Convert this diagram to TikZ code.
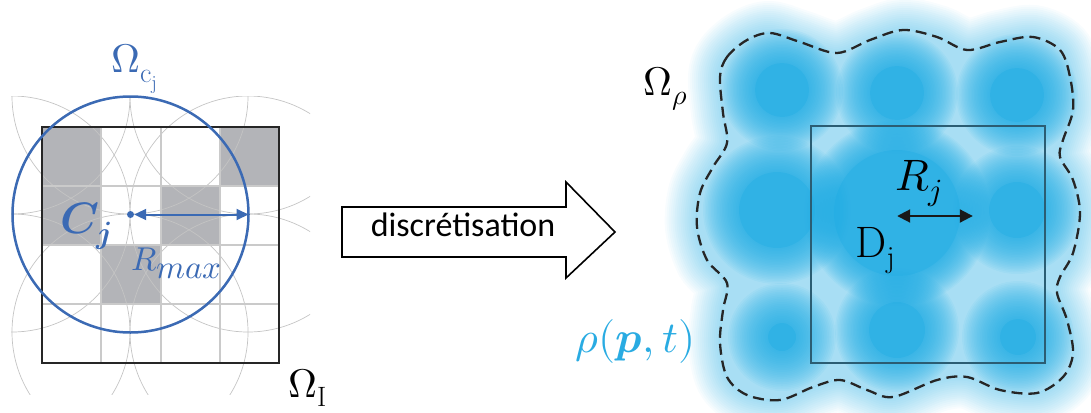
\documentclass[tikz,border=0pt]{standalone}
\usepackage{fontspec}
\usepackage{unicode-math}
\setmathfont{Latin Modern Math}
\newfontfamily\calib{Carlito}
\usetikzlibrary{arrows.meta}
\definecolor{lblue}{HTML}{3B6AB4}
\definecolor{cellgray}{HTML}{B3B4B8}
\definecolor{gridgray}{HTML}{CACACA}
\definecolor{arcgray}{HTML}{C4C4C4}
\definecolor{cyantext}{HTML}{29ABE2}
\definecolor{blobc}{HTML}{19A9E2}
\definecolor{sqcol}{HTML}{2B5D73}
\newcommand\myblob[4]{%
  \foreach \k in {0,...,23}{\fill[blobc,fill opacity=0.06] (#1,#2) circle[radius={#3pt+\k*#4pt/23}];}
  \fill[blobc,fill opacity=0.3] (#1,#2) circle[radius=#3pt];}
\newcommand\bndpath{plot[smooth cycle,tension=0.55] coordinates {
(720,77) (727,57) (747,40) (770,33) (800,42) (837,53) (870,40) (903,30) (937,37) (967,50)
(1000,42) (1033,37) (1060,50) (1070,77) (1073,110) (1063,140) (1060,157) (1073,180) (1080,213)
(1073,253) (1060,277) (1057,293) (1067,320) (1073,353) (1063,377) (1037,393) (1000,390) (967,377)
(937,380) (893,397) (867,390) (840,380) (813,387) (780,400) (747,395) (727,377) (720,343) (723,310)
(727,283) (707,260) (697,227) (700,193) (713,167) (727,143) (723,113)}}
\tikzset{
  cell/.style={fill=cellgray,draw=none},
  gridline/.style={draw=gridgray,line width=2pt},
  lightarc/.style={draw=arcgray,line width=0.7pt},
  frame/.style={draw=black!85,line width=2.5pt},
  bluecirc/.style={draw=lblue,line width=2.5pt},
  biglabel/.style={inner sep=0pt,font=\fontsize{40}{48}\selectfont},
  boundary/.style={draw=black!85,line width=2.3pt,dash pattern=on 11pt off 6pt},
}
\begin{document}
\begin{tikzpicture}[x=1pt,y=-1pt]
\useasboundingbox (0,0) rectangle (1091,412);
% ---------- left panel ----------
\fill[cell] (42,127) rectangle (101.25,186);
\fill[cell] (219.75,127) rectangle (279,186);
\fill[cell] (42,186) rectangle (101.25,245);
\fill[cell] (160.5,186) rectangle (219.75,245);
\fill[cell] (101.25,245) rectangle (160.5,304);
\begin{scope}
  \clip (11,96) rectangle (310,394);
  \foreach \cx in {12,130,248}{\foreach \cy in {96,214,332}{\draw[lightarc] (\cx,\cy) circle[radius=118pt];}}
\end{scope}
\foreach \gx in {101.25,160.5,219.75}{\draw[gridline] (\gx,127) -- (\gx,363);}
\foreach \gy in {186,245,304}{\draw[gridline] (42,\gy) -- (279,\gy);}
\draw[frame] (42,127) rectangle (279,363);
\draw[bluecirc] (130.5,214.5) circle[radius=118pt];
\node[circle,fill=lblue,inner sep=0pt,minimum size=7pt] (cj) at (130.5,214.5) {};
\coordinate (rm) at (248.5,214.5);
\draw[lblue,line width=2pt,{Triangle[length=12pt,width=11pt]}-{Triangle[length=12pt,width=11pt]}] (cj) -- (rm);
\node[biglabel,text=lblue,anchor=base west,font=\fontsize{44}{50}\selectfont] (cjlab) at (60,233) {$\symbfit{C}_{\symbfit{j}}$};
\node[biglabel,text=lblue,anchor=base west,font=\fontsize{33}{40}\selectfont] (rmax) at (131,270) {$R_{\textstyle max}$};
\node[biglabel,text=lblue,anchor=base west] (omc) at (111,73) {$\Omega_{\mathrm{c_j}}$};
\node[biglabel,anchor=base west] (omi) at (288,397) {$\Omega_{\mathrm{I}}$};
% ---------- arrow ----------
\coordinate (a1) at (342,207);
\coordinate (a2) at (566,207);
\coordinate (a3) at (566,182);
\coordinate (a4) at (615,232);
\coordinate (a5) at (566,278);
\coordinate (a6) at (566,257);
\coordinate (a7) at (342,257);
\draw[line width=1.6pt,line join=miter] (a1) -- (a2) -- (a3) -- (a4) -- (a5) -- (a6) -- (a7) -- cycle;
\node[inner sep=0pt,anchor=base,font=\calib\fontsize{34}{40}\selectfont] (disc) at (463,236) {discrétisation};
% ---------- right panel ----------
\fill[blobc,fill opacity=0.38] \bndpath;
\begin{scope}[even odd rule]
  \clip (620,-20) rectangle (1120,440) \bndpath;
  \foreach \w in {4,8,...,64}{\draw[blobc,draw opacity=0.032,line width=\w pt] \bndpath;}
\end{scope}
\myblob{782}{90}{27}{34}
\myblob{897}{93}{27}{34}
\myblob{1017}{95}{27}{34}
\myblob{777}{210}{38}{36}
\myblob{897}{213}{63}{30}
\myblob{1017}{210}{28}{36}
\myblob{782}{337}{14}{40}
\myblob{897}{330}{28}{34}
\myblob{1018}{337}{18}{38}
\draw[sqcol,line width=1.6pt] (811,126) rectangle (1045,363);
\draw[boundary] \bndpath;
\node[biglabel,anchor=base west] (omr) at (643,95) {$\Omega_{\rho}$};
\node[biglabel,anchor=base west,text=cyantext,font=\fontsize{44}{50}\selectfont] (rho) at (575,352) {$\rho(\symbfit{p},t)$};
\node[biglabel,anchor=base west,font=\fontsize{44}{50}\selectfont] (rj) at (895,190) {$R_{j}$};
\node[biglabel,anchor=base west,font=\fontsize{44}{50}\selectfont] (dj) at (855,257) {$\mathrm{D}_{\mathrm{j}}$};
\node[inner sep=0pt,minimum size=0pt] (ra) at (897,216) {};
\node[inner sep=0pt,minimum size=0pt] (rb) at (973,216) {};
\draw[black!90,line width=2pt,{Triangle[length=13pt,width=13pt]}-{Triangle[length=13pt,width=13pt]}] (ra) -- (rb);
\end{tikzpicture}
\end{document}
